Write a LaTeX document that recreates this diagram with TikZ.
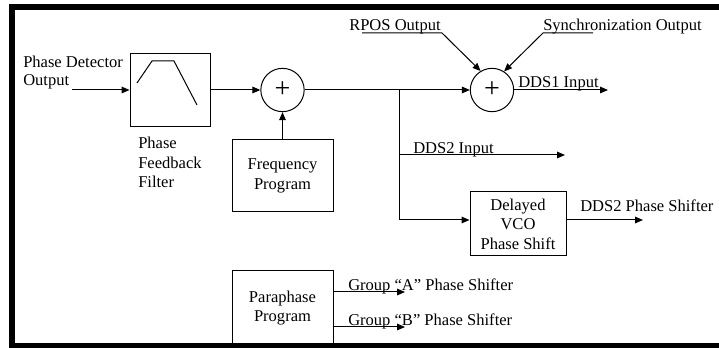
\documentclass[tikz,border=0pt]{standalone}
\usepackage{fontspec}
\setmainfont{Liberation Serif}
\usepackage{tikz}
\usetikzlibrary{arrows.meta,calc}

\begin{document}
\begin{tikzpicture}[x=0.75pt, y=-0.75pt,
    every node/.style={font=\fontsize{12.4}{14.6}\selectfont, inner sep=0pt},
    blk/.style={draw, line width=0.75pt, align=center},
    summer/.style={draw, circle, line width=0.75pt, minimum size=32.5pt,
        font=\fontsize{21}{21}\selectfont},
    wire/.style={line width=0.75pt},
    arr/.style={line width=0.75pt, -{Triangle[length=6pt,width=5pt]}},
    lbl/.style={anchor=base west}]

\useasboundingbox (0,0) rectangle (719,348);

% Filter block
\node[blk, minimum width=60pt, minimum height=54.75pt] (filt) at (170,90) {};
\draw[wire] (137,83) -- (152,61) -- (174,61) -- (197,105);
\node[anchor=north west, align=left] (filtlbl) at (138,137) {Phase\\Feedback\\Filter};

% Input
\node[anchor=north west, align=left] (pdlbl) at (23,56) {Phase Detector\\[-1.2pt]Output};
\coordinate (pdin) at (72,90);
\draw[arr] (pdin) -- (filt);

% Summing junctions
\node[summer] (sum1) at (282.5,90) {+};
\node[summer] (sum2) at (492,90) {+};
\node[blk, minimum width=75.75pt, minimum height=54pt] (freq) at (282.5,176) {Frequency\\Program};
\draw[arr] (filt) -- (sum1);
\draw[arr] (freq) -- (sum1);
\draw[arr] (sum1) -- (sum2);

% Top inputs
\node[lbl] (rpos) at (349,31) {RPOS Output};
\node[lbl] (sync) at (543,31) {Synchronization Output};
\coordinate (rposa) at (362,33);
\coordinate (rposb) at (442,33);
\coordinate (synca) at (593,33);
\coordinate (syncb) at (543,33);
\draw[arr] (rposa) -- (rposb) -- (sum2.121);
\draw[arr] (synca) -- (syncb) -- (sum2.57);

% DDS outputs
\coordinate (jn) at (399,90);
\coordinate (d1) at (608,90);
\coordinate (d2) at (565,155);
\draw[arr] (sum2) -- (d1);
\node[lbl] (d1lbl) at (518,88) {DDS1 Input};
\draw[arr] (jn |- d2) -- (d2);
\node[lbl] (d2lbl) at (413,154) {DDS2 Input};

% Delayed VCO
\node[blk, minimum width=72pt, minimum height=48pt] (vco) at (518,224) {Delayed\\VCO\\Phase Shift};
\draw[arr] (jn) |- ([yshift=3pt]vco.west);
\coordinate (vo) at (643,220);
\draw[arr] ([yshift=3pt]vco.east) -- (vo);
\node[lbl] (volbl) at (580,212) {DDS2 Phase Shifter};

% Paraphase
\node[blk, minimum width=75.75pt, minimum height=55.5pt] (para) at (282.5,308) {Paraphase\\Program};
\coordinate (ga) at (405,292);
\coordinate (gb) at (405,327);
\draw[arr] (para.east |- ga) -- (ga);
\draw[arr] (para.east |- gb) -- (gb);
\node[lbl] (galbl) at (348,291) {Group “A” Phase Shifter};
\node[lbl] (gblbl) at (348,326) {Group “B” Phase Shifter};

% Frame
\draw[line width=4.5pt] (719,7.5) -- (12,7.5) -- (12,346) -- (719,346);

\end{tikzpicture}
\end{document}
